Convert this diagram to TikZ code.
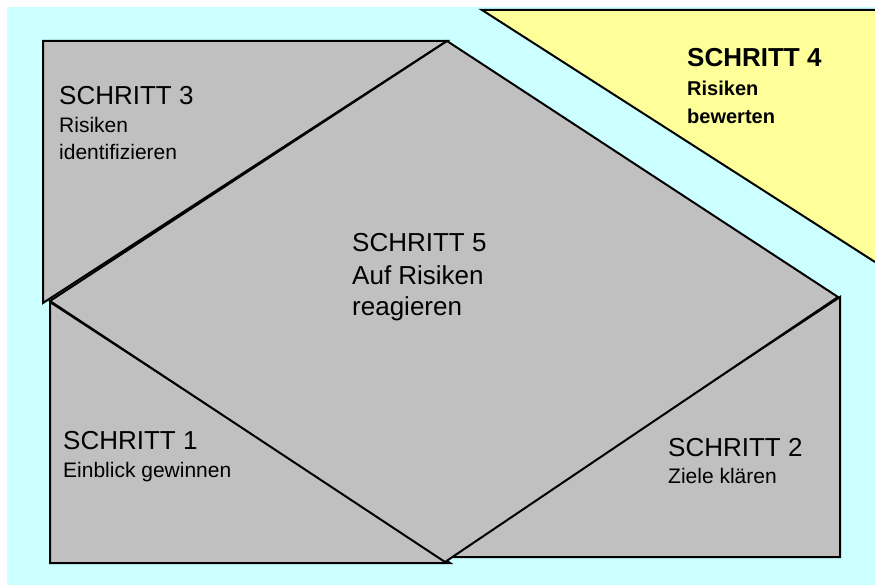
\documentclass[tikz,border=0pt]{standalone}
\usepackage{fontspec}
\setmainfont{Liberation Sans}
\definecolor{bgcyan}{HTML}{CCFFFF}
\definecolor{stepgray}{HTML}{C0C0C0}
\definecolor{stepyellow}{HTML}{FFFF99}
\tikzset{
  piece/.style={fill=stepgray,draw=black,line width=2pt,line join=miter},
  label/.style={anchor=base west,inner sep=0pt,align=left,text=black},
  big/.style={font=\fontsize{26}{32}\selectfont},
  small/.style={font=\fontsize{21}{27}\selectfont},
}
\begin{document}
\begin{tikzpicture}[x=1pt,y=-1pt]
\useasboundingbox (0,0) rectangle (875,585);
\fill[bgcyan] (7,7) rectangle (875,585);
\filldraw[fill=stepyellow,draw=black,line width=2pt] (875,10) -- (482,10) -- (875,262);
%%%%
\draw[piece] (43,41) -- (447,41) -- (43,303) -- cycle;
\draw[piece] (50,302) -- (50,563) -- (450,563) -- cycle;
\draw[piece] (840,297) -- (840,557) -- (447,557) -- cycle;
\draw[piece] (447,41) -- (838,297) -- (445,562) -- (50,301) -- cycle;
%%%%
\node[label,big] (s3) at (59,105) {SCHRITT 3};
\node[label,small] (s3sub) at (59,160) {Risiken\\identifizieren};
\node[label,big] (s5) at (352,316) {SCHRITT 5\\Auf Risiken\\reagieren};
\node[label,font=\fontsize{26}{32}\selectfont\bfseries] (s4) at (687,67) {SCHRITT 4};
\node[label,font=\fontsize{20}{28}\selectfont\bfseries] (s4sub) at (687,124) {Risiken\\bewerten};
\node[label,big] (s1) at (63,449) {SCHRITT 1};
\node[label,small] (s1sub) at (63,477) {Einblick gewinnen};
\node[label,big] (s2) at (668,456) {SCHRITT 2};
\node[label,small] (s2sub) at (668,483) {Ziele klären};
\end{tikzpicture}
\end{document}
